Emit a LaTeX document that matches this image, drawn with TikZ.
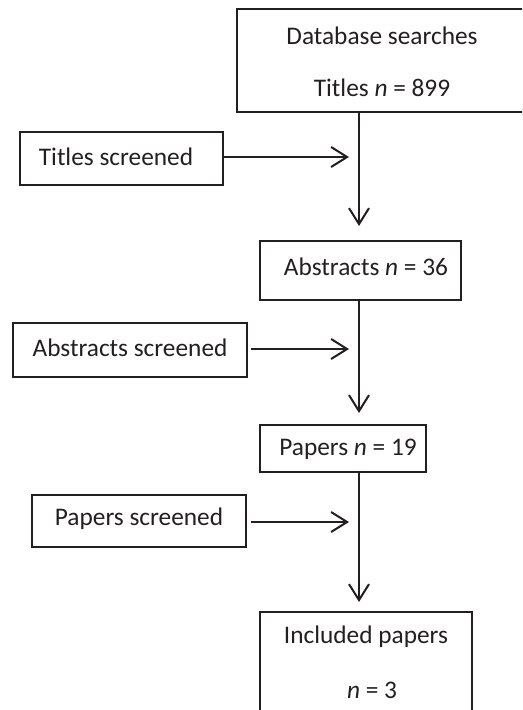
\documentclass[tikz,border=0pt]{standalone}
\usepackage{fontspec}
\setmainfont{Carlito}
\usetikzlibrary{arrows.meta}
\definecolor{ink}{HTML}{231F20}
\begin{document}
\begin{tikzpicture}[x=0.75pt,y=-0.75pt,
  box/.style={draw=ink,line width=1.4pt,rectangle,inner sep=0pt},
  txt/.style={text=ink,inner sep=0pt,font=\fontsize{19}{23}\selectfont},
  flow/.style={draw=ink,line width=1.5pt,-{Straight Barb[length=12pt,width=15pt,line width=1.5pt]}}]
\useasboundingbox (0,0) rectangle (522,710);
\clip (0,0) rectangle (522,710);
% boxes (centre, width, height in px)
\node[box,minimum width=290*0.75pt,minimum height=103*0.75pt] (db) at (382,60.5) {};
\node[box,minimum width=203*0.75pt,minimum height=53*0.75pt] (ts) at (121.5,158.5) {};
\node[box,minimum width=201*0.75pt,minimum height=59*0.75pt] (ab) at (360.5,270.5) {};
\node[box,minimum width=234*0.75pt,minimum height=54*0.75pt] (as) at (130,350) {};
\node[box,minimum width=166*0.75pt,minimum height=47*0.75pt] (pp) at (343,448.5) {};
\node[box,minimum width=214*0.75pt,minimum height=52*0.75pt] (ps) at (139,521) {};
\node[box,minimum width=212*0.75pt,minimum height=120*0.75pt] (inc) at (366,672) {};
% texts
\node[txt] (dbt1) at (382,36) {Database searches};
\node[txt] (dbt2) at (382,88) {Titles \textit{n} = 899};
\node[txt] (tst) at (116,157) {Titles screened};
\node[txt] (abt) at (366,267) {Abstracts \textit{n} = 36};
\node[txt] (ast) at (130,348) {Abstracts screened};
\node[txt] (ppt) at (348,449) {Papers \textit{n} = 19};
\node[txt] (pst) at (139,519) {Papers screened};
\node[txt] (inct1) at (366,637) {Included papers};
\node[txt] (inct2) at (372,690) {\textit{n} = 3};
% arrow ends
\coordinate (h1) at (349,157);
\coordinate (h2) at (349,349);
\coordinate (h3) at (349,522);
\coordinate (v1) at (359,226);
\coordinate (v2) at (359,413);
\coordinate (v3) at (359,602);
% connectors
\draw[flow] (ts.east |- h1) -- (h1);
\draw[flow] ([xshift=2.25pt]as.east |- h2) -- (h2);
\draw[flow] ([xshift=3pt]ps.east |- h3) -- (h3);
\draw[flow] (db.south -| v1) -- (v1);
\draw[flow] (ab.south -| v2) -- (v2);
\draw[flow] (pp.south -| v3) -- (v3);
\end{tikzpicture}
\end{document}
